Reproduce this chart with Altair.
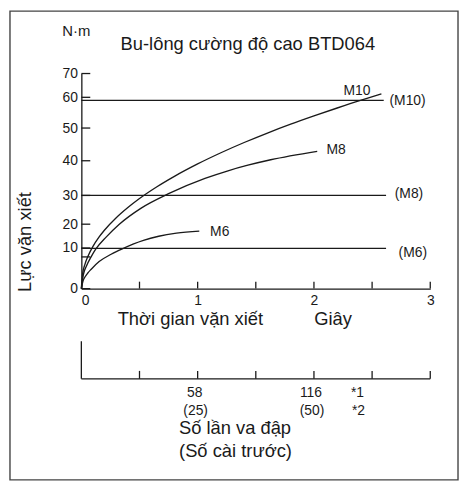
import altair as alt
import pandas as pd

# ---------------- data ----------------
m10_t = [0, 0.01, 0.03, 0.06, 0.10, 0.15, 0.20, 0.30, 0.40, 0.50, 0.65, 0.80, 1.00,
         1.20, 1.40, 1.60, 1.80, 2.00, 2.20, 2.40, 2.58]
m10_v = [0, 3.5, 5.9, 8.17, 10.67, 14.42, 17.54, 22.24, 25.79, 28.93, 32.51, 35.51, 39.09,
         42.45, 45.58, 48.48, 51.26, 53.94, 56.52, 59.0, 61.42]
m8_t = [0, 0.017, 0.043, 0.085, 0.125, 0.213, 0.324, 0.511, 0.75, 1.063, 1.261, 1.432, 1.628, 2.028]
m8_v = [0, 3.41, 5.49, 7.88, 9.76, 14.58, 19.88, 25.52, 30.51, 34.91, 37.11, 38.71, 40.30, 42.88]
m6_t = [0, 0.017, 0.034, 0.054, 0.085, 0.153, 0.256, 0.352, 0.534, 0.665, 0.818, 1.014]
m6_v = [0, 2.10, 2.98, 3.78, 4.78, 6.66, 8.46, 9.80, 13.21, 14.92, 16.21, 17.08]

limit_names = ["(M10)", "(M8)", "(M6)"]
limit_values = [59.0, 30.0, 9.9]
limit_end = [2.60, 2.62, 2.62]
limit_label_t = [2.805, 2.817, 2.85]
limit_label_v = [58.7, 30.5, 8.8]

curve_names = ["M10", "M8", "M6"]
curve_label_t = [2.37, 2.19, 1.19]
curve_label_v = [62.7, 43.3, 16.8]

y_ticks = [0, 10, 20, 30, 40, 50, 60, 70]
y_tick_pixels = [217, 176, 152, 123, 88, 55, 24, 0]   # uneven spacing of the printed scale
y_extra_tick = [7.8]
x_labels = [0, 1, 2, 3]
x_ticks = [0.5, 1.0, 1.5, 2.0, 2.5, 3.0]

impact_pos = [1, 2, 2.4]
impact_counts = ["58", "116", "*1"]
preset_counts = ["(25)", "(50)", "*2"]

title_text = "Bu-lông cường độ cao BTD064"
unit_text = "N·m"
y_title = "Lực vặn xiết"
x_title = "Thời gian vặn xiết"
x_unit = "Giây"
bottom_title_1 = "Số lần va đập"
bottom_title_2 = "(Số cài trước)"

# ---------------- build ----------------
FONT = "Liberation Sans"
INK = "#1a1a1a"
W, H = 352, 217

x_scale = alt.Scale(domain=[0, 3], nice=False, zero=False)
y_scale = alt.Scale(domain=y_ticks, range=y_tick_pixels, nice=False, zero=False)

x_axis = alt.Axis(values=x_labels, ticks=False, tickSize=0, grid=False, title=None,
                  labelFontSize=14, labelPadding=5, labelFont=FONT, labelColor=INK,
                  domainColor=INK, domainWidth=1.3,
                  labelAlign={"condition": {"test": "datum.value === 0", "value": "left"},
                              "value": "center"})
y_axis = alt.Axis(values=y_ticks, ticks=False, tickSize=0, grid=False, title=None,
                  labelFontSize=14, labelPadding=4, labelFont=FONT, labelColor=INK,
                  domainColor=INK, domainWidth=1.3)


def X(field):
    return alt.X(field, type="quantitative", scale=x_scale, axis=x_axis)


def Y(field):
    return alt.Y(field, type="quantitative", scale=y_scale, axis=y_axis)


curves = pd.concat([
    pd.DataFrame({"series": "M10", "t": m10_t, "v": m10_v}),
    pd.DataFrame({"series": "M8", "t": m8_t, "v": m8_v}),
    pd.DataFrame({"series": "M6", "t": m6_t, "v": m6_v}),
])
limits = pd.DataFrame({"name": limit_names, "v": limit_values, "t": [0, 0, 0], "t2": limit_end})
limit_lbl = pd.DataFrame({"name": limit_names, "t": limit_label_t, "v": limit_label_v})
curve_lbl = pd.DataFrame({"name": curve_names, "t": curve_label_t, "v": curve_label_v})
yt = pd.DataFrame({"v": y_ticks + y_extra_tick})
xt = pd.DataFrame({"t": x_ticks})
imp = pd.DataFrame({"t": impact_pos, "a": impact_counts, "b": preset_counts})
one = pd.DataFrame({"k": [0]})

border = alt.Chart(one).mark_rect(fill="transparent", stroke="#444444", strokeWidth=1.4).encode(
    x=alt.value(-72), x2=alt.value(380), y=alt.value(-63), y2=alt.value(410))

limit_lines = alt.Chart(limits).mark_rule(color=INK, strokeWidth=1.25).encode(
    x=X("t"), x2="t2", y=Y("v"))

curve_lines = alt.Chart(curves).mark_line(color=INK, strokeWidth=1.35, interpolate="monotone").encode(
    x=X("t"), y=Y("v"), detail="series:N")

txt = dict(font=FONT, fontSize=14, color=INK, baseline="middle", align="center")
limit_text = alt.Chart(limit_lbl).mark_text(**txt).encode(x=X("t"), y=Y("v"), text="name:N")
curve_text = alt.Chart(curve_lbl).mark_text(**txt).encode(x=X("t"), y=Y("v"), text="name:N")

y_tick_marks = alt.Chart(yt).mark_rule(color=INK, strokeWidth=1.3).encode(
    y=Y("v"), x=alt.value(0), x2=alt.value(9))
x_tick_marks = alt.Chart(xt).mark_rule(color=INK, strokeWidth=1.3).encode(
    x=X("t"), y=alt.value(H - 7), y2=alt.value(H))

# second (impact count) axis below
bottom_line = alt.Chart(pd.DataFrame({"t": [0], "t2": [3]})).mark_rule(color=INK, strokeWidth=1.3).encode(
    x=X("t"), x2="t2", y=alt.value(308))
bottom_vert = alt.Chart(pd.DataFrame({"t": [0]})).mark_rule(color=INK, strokeWidth=1.3).encode(
    x=X("t"), y=alt.value(270), y2=alt.value(308))
bottom_ticks = alt.Chart(xt).mark_rule(color=INK, strokeWidth=1.3).encode(
    x=X("t"), y=alt.value(300), y2=alt.value(308))
imp_a = alt.Chart(imp).mark_text(dx=-3, **txt).encode(x=X("t"), y=alt.value(322), text="a:N")
imp_b = alt.Chart(imp).mark_text(dx=-2, **txt).encode(x=X("t"), y=alt.value(340), text="b:N")


def label(text, x, y, size=18.5, angle=0):
    return alt.Chart(one).mark_text(text=text, font=FONT, fontSize=size, color=INK,
                                    baseline="middle", align="center", angle=angle).encode(
        x=alt.value(x), y=alt.value(y))


texts = [
    label(unit_text, -5, -43, size=15),
    label(title_text, 168, -30),
    label(x_title, 110, 248),
    label(x_unit, 254, 248),
    label(y_title, -57, 170, angle=270),
    label(bottom_title_1, 155, 358),
    label(bottom_title_2, 155.5, 381),
]

chart = alt.layer(
    border, limit_lines, curve_lines, limit_text, curve_text,
    y_tick_marks, x_tick_marks, bottom_line, bottom_vert, bottom_ticks, imp_a, imp_b,
    *texts
).properties(
    width=W, height=H,
    padding={"left": 74, "top": 64, "right": 29, "bottom": 194},
    autosize=alt.AutoSizeParams(type="none"),
    background="white",
).configure_view(stroke=None)

chart.save("out.html", embed_options={"renderer": "svg", "actions": False})
